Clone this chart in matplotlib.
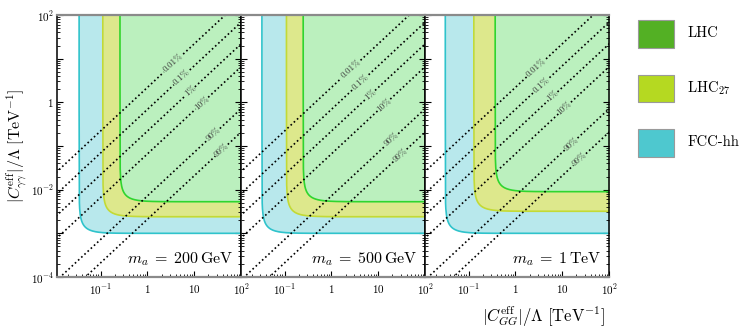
import numpy as np
import matplotlib
matplotlib.use('Agg')
import matplotlib.pyplot as plt
from matplotlib.patches import Rectangle
from matplotlib.ticker import LogLocator, FixedLocator, FixedFormatter, NullFormatter

plt.rcParams['mathtext.fontset'] = 'cm'
plt.rcParams['font.family'] = 'serif'
plt.rcParams['font.serif'] = ['cmr10', 'DejaVu Serif']
plt.rcParams['axes.formatter.use_mathtext'] = True

# panel labels
mass_labels = [r'$m_a\;=\;200\,{\rm GeV}$', r'$m_a\;=\;500\,{\rm GeV}$', r'$m_a\;=\;1\,{\rm TeV}$']

# exclusion thresholds (asymptotes) per panel: C_GG [TeV^-1], C_gamgam [TeV^-1]
lhc_cgg = [0.26, 0.25, 0.37]
lhc_cgam = [0.0053, 0.0053, 0.0090]
lhc27_cgg = [0.112, 0.11, 0.13]
lhc27_cgam = [0.0024, 0.0024, 0.0032]
fcc_cgg = [0.035, 0.033, 0.032]
fcc_cgam = [0.001, 0.001, 0.001]

# branching ratio contours  C_gamgam = k * C_GG
br_labels = ['0.01%', '0.1%', '1%', '10%', '90%', '99%']
br_slope = [2.2, 0.69, 0.22, 0.066, 0.0072, 0.0021]
# x position of the contour labels in each panel
br_label_x = [[3.6, 5.4, 8.2, 14.5, 25.7, 38.0],
              [2.6, 4.2, 6.8, 13.2, 19.5, 29.5],
              [2.8, 3.6, 6.3, 11.2, 15.5, 23.4]]

x_ticks = [0.1, 1, 10, 100]
x_ticklabels = [r'$10^{-1}$', r'$1$', r'$10$', r'$10^{2}$']
y_ticks = [1e-4, 1e-3, 1e-2, 1e-1, 1, 10, 100]
y_ticklabels = [r'$10^{-4}$', '', r'$10^{-2}$', '', r'$1$', '', r'$10^{2}$']

colliders = ['LHC', r'LHC$_{27}$', 'FCC-hh']
legend_colors = ['#53b024', '#b5d921', '#4ec8cf']

xmin, xmax = 0.012, 100
ymin, ymax = 1e-4, 1e2

W, H = 747, 329
fig = plt.figure(figsize=(W / 100, H / 100), dpi=100)

def region(ax, x0, y0, fill, edge, p=2.2):
    xs = np.logspace(np.log10(x0) + 1e-7, np.log10(xmax) + 0.05, 600)
    ys = y0 * (1 - (x0 / xs) ** p) ** (-1.0 / p)
    ys = np.minimum(ys, 1e3)
    xs = np.concatenate([[x0], xs])
    ys = np.concatenate([[1e3], ys])
    ax.fill_between(xs, ys, 1e3, color=fill, lw=0, zorder=1)
    ax.plot(xs, ys, color=edge, lw=1.2, zorder=2)

left_px, panel_w = 57.3, 184.0
top_px, bot_px = 15, 277
axes = []
for i in range(3):
    ax = fig.add_axes([(left_px + i * panel_w) / W, 1 - bot_px / H,
                       panel_w / W, (bot_px - top_px) / H])
    ax.set_xscale('log')
    ax.set_yscale('log')
    ax.set_xlim(xmin, xmax)
    ax.set_ylim(ymin, ymax)

    region(ax, fcc_cgg[i], fcc_cgam[i], '#b8e8ec', '#2fc3cb')
    region(ax, lhc27_cgg[i], lhc27_cgam[i], '#dde88c', '#c3da35')
    region(ax, lhc_cgg[i], lhc_cgam[i], '#bbf0be', '#2fd52f')

    # rotation of slope-1 lines on screen
    p1 = ax.transData.transform((1, 1))
    p2 = ax.transData.transform((10, 10))
    ang = np.degrees(np.arctan2(p2[1] - p1[1], p2[0] - p1[0]))

    for lab, k, xl in zip(br_labels, br_slope, br_label_x[i]):
        g = 10 ** (0.036 * len(lab) + 0.025)
        for xa, xb in [(xmin / 2, xl / g), (xl * g, xmax * 2)]:
            ax.plot([xa, xb], [k * xa, k * xb], color='black', lw=1.2,
                    linestyle=(0, (1.0, 1.6)), zorder=3)
        ax.text(xl, k * xl, lab, fontsize=6.5, color='#3a3a3a', rotation=ang,
                ha='center', va='center', rotation_mode='anchor', zorder=4)

    ax.text(0.958, 0.07, mass_labels[i], transform=ax.transAxes, fontsize=11.5,
            ha='right', va='center', zorder=5)

    ax.xaxis.set_major_locator(FixedLocator(x_ticks))
    ax.xaxis.set_major_formatter(FixedFormatter(x_ticklabels))
    ax.xaxis.set_minor_locator(LogLocator(base=10, subs=np.arange(2, 10), numticks=20))
    ax.xaxis.set_minor_formatter(NullFormatter())
    ax.yaxis.set_major_locator(FixedLocator(y_ticks))
    ax.yaxis.set_major_formatter(FixedFormatter(y_ticklabels))
    ax.yaxis.set_minor_locator(LogLocator(base=10, subs=np.arange(2, 10), numticks=20))
    ax.yaxis.set_minor_formatter(NullFormatter())
    ax.tick_params(which='both', direction='in', left=True, right=True,
                   top=False, bottom=True, labelsize=8)
    ax.tick_params(axis='x', pad=4)
    ax.tick_params(axis='y', pad=2.5)
    ax.tick_params(which='major', length=4, width=0.8)
    ax.tick_params(which='minor', length=2, width=0.6)
    if i > 0:
        ax.tick_params(labelleft=False)
    for s in ['top', 'bottom']:
        ax.spines[s].set_color('#8a8a8a')
        ax.spines[s].set_linewidth(1.6)
    for s in ['left', 'right']:
        ax.spines[s].set_color('black')
        ax.spines[s].set_linewidth(1.1)
    for s in ax.spines.values():
        s.set_zorder(6)
    axes.append(ax)

fig.text(17 / W, 1 - 146 / H, r'$|C^{\rm eff}_{\gamma\gamma}|/\Lambda\ [{\rm TeV}^{-1}]$',
         rotation=90, ha='center', va='center', fontsize=11.5)
fig.text(605 / W, 1 - 317 / H, r'$|C^{\rm eff}_{GG}|/\Lambda\ [{\rm TeV}^{-1}]$',
         ha='right', va='center', fontsize=12)

# legend
for j, (name, col) in enumerate(zip(colliders, legend_colors)):
    y_top = 20 + j * 54.5
    fig.patches.append(Rectangle((637.7 / W, 1 - (y_top + 27.5) / H), 36.5 / W, 27.5 / H,
                                 transform=fig.transFigure, facecolor=col,
                                 edgecolor='#9a9a9a', lw=0.8))
    fig.text(687 / W, 1 - (y_top + 13.5) / H, name, ha='left', va='center', fontsize=10.5)

fig.savefig('out.png', dpi=100)
